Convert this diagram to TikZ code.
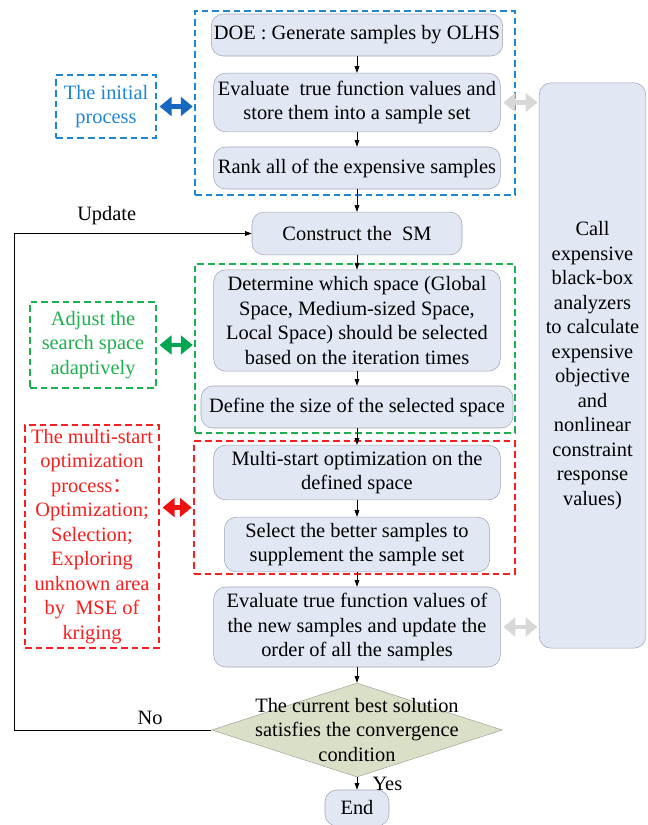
\documentclass[tikz,border=0pt]{standalone}
\usepackage{fontspec}
\setmainfont{Liberation Serif}
\newfontfamily\cjkfont{Noto Sans CJK SC}
\definecolor{boxfill}{HTML}{E1E7F3}
\definecolor{boxline}{HTML}{9EA5B3}
\definecolor{condfill}{HTML}{DADFC8}
\definecolor{condline}{HTML}{A3A89A}
\definecolor{initblue}{HTML}{1E86D2}
\definecolor{arrblue}{HTML}{1668C0}
\definecolor{adjgreen}{HTML}{1DB04E}
\definecolor{arrgreen}{HTML}{00A650}
\definecolor{msred}{HTML}{F51F1F}
\definecolor{arrred}{HTML}{EE1111}
\definecolor{linkgray}{HTML}{D8D8D8}
\usetikzlibrary{positioning, shapes.geometric, arrows.meta}

\begin{document}
\begin{tikzpicture}[x=0.75pt, y=-0.75pt,
  every node/.style={font=\fontsize{15.3}{18.4}\selectfont},
  bx/.style={draw=boxline, fill=boxfill, rounded corners=9pt, align=center, inner sep=2pt},
  dsh/.style={draw, line width=1.3pt, dash pattern=on 5pt off 3pt, inner sep=0pt, align=center},
  arr/.style={-{Triangle[length=5pt,width=3.5pt]}, line width=0.6pt},
  dbl/.style={{Triangle[length=9pt,width=14pt]}-{Triangle[length=9pt,width=14pt]},
              line width=3.2pt, shorten <=2pt, shorten >=1pt},
]
\useasboundingbox (0,0) rectangle (648,825);

% Dashed groups
\node[dsh, draw=initblue, minimum width=240pt, minimum height=138pt] (initgrp) at (355,103) {};
\node[dsh, draw=adjgreen, minimum width=240pt, minimum height=126.75pt] (adjgrp) at (355,348.5) {};
\node[dsh, draw=msred, minimum width=240.75pt, minimum height=99.75pt] (msgrp) at (354.5,507.5) {};

% Main column
\node[bx, minimum width=218pt, minimum height=31.5pt] (doe) at (357,35) {DOE : Generate samples by OLHS};
\node[bx, minimum width=215pt, minimum height=44pt] (eval1) at (357,102.5) {Evaluate\ \ true function values and\\store them into a sample set};
\node[bx, minimum width=215pt, minimum height=31.5pt] (rank) at (357,168) {Rank all of the expensive samples};
\node[bx, minimum width=157.5pt, minimum height=32pt] (sm) at (357,233.5) {Construct the\ \ SM};
\node[bx, minimum width=215pt, minimum height=76pt] (space) at (357,320.5) {Determine which space (Global\\Space, Medium-sized Space,\\Local Space) should be selected\\based on the iteration times};
\node[bx, minimum width=234pt, minimum height=31.5pt] (size) at (357,407) {Define the size of the selected space};
\node[bx, minimum width=215pt, minimum height=41pt] (multi) at (357,472.5) {Multi-start optimization on the\\defined space};
\node[bx, minimum width=199pt, minimum height=41pt] (select) at (357,544.5) {Select the better samples to\\supplement the sample set};
\node[bx, minimum width=215pt, minimum height=60pt] (eval2) at (357,627) {Evaluate true function values of\\the new samples and update the\\order of all the samples};
\node[diamond, draw=condline, fill=condfill, align=center, shape aspect=3.1,
      inner xsep=-5pt, inner ysep=-20pt, minimum width=218pt, minimum height=70.5pt] (cond) at (357,730)
  {The current best solution\\satisfies the convergence\\condition};
\node[bx, minimum width=48pt, minimum height=27pt] (end) at (357,808) {End};

% Analyzer column
\node[bx, minimum width=80pt, minimum height=424pt] (call) at (592.5,365.5)
  {Call\\expensive\\black-box\\analyzers\\to calculate\\expensive\\objective\\and\\nonlinear\\constraint\\response\\values)};

% Side labels
\node[dsh, draw=initblue, text=initblue, minimum width=75pt, minimum height=47pt] (initlbl) at (106,106.5) {The initial\\process};
\node[dsh, draw=adjgreen, text=adjgreen, minimum width=94.5pt, minimum height=64.5pt] (adjlbl) at (93,345) {Adjust the\\search space\\adaptively};
\node[dsh, draw=msred, text=msred, minimum width=100.5pt, minimum height=167pt] (mslbl) at (92,536.5)
  {The multi-start\\optimization\\process{\cjkfont ：}\\Optimization;\\Selection;\\Exploring\\unknown area\\by\ \ MSE of\\kriging};

% Flow arrows
\draw[arr] (doe) -- (eval1);
\draw[arr] (eval1) -- (rank);
\draw[arr] (rank) -- (sm);
\draw[arr] (sm) -- (space);
\draw[arr] (space) -- (size);
\draw[arr] (size) -- (multi);
\draw[arr] (multi) -- (select);
\draw[arr] (select) -- (eval2);
\draw[arr] (eval2) -- (cond);
\draw[arr] (cond) -- node[right=8pt] {Yes} (end);

% Loop back
\coordinate (loopx) at (14,0);
\draw[arr] (cond.west) -- node[above, pos=0.31] {No} (cond.west -| loopx)
  -- (sm.west -| loopx) -- node[above=3pt, pos=0.39] {Update} (sm.west);

% Double arrows
\draw[dbl, arrblue] (initlbl.east) -- (initlbl.east -| initgrp.west);
\draw[dbl, arrgreen] (adjlbl.east) -- (adjlbl.east -| adjgrp.west);
\draw[dbl, arrred] (mslbl.east |- msgrp.west) -- (msgrp.west);
\draw[dbl, linkgray] (eval1.east) -- (eval1.east -| call.west);
\draw[dbl, linkgray] (eval2.east) -- (eval2.east -| call.west);

\end{tikzpicture}
\end{document}
